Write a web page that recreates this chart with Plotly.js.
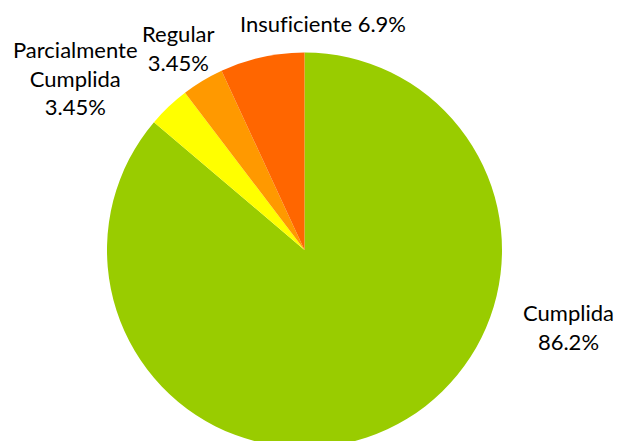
<!DOCTYPE html>
<html>
<head>
<meta charset="utf-8">
<script src="https://cdn.plot.ly/plotly-3.0.1.min.js"></script>
<style>
html,body{margin:0;padding:0;overflow:hidden;background:#fff;}
#chart{width:625px;height:452px;}
svg text{font-variant-ligatures:none !important;font-feature-settings:"liga" 0, "clig" 0 !important;}
</style>
</head>
<body>
<div id="chart"></div>
<script>
const categories = ["Cumplida", "Parcialmente Cumplida", "Regular", "Insuficiente"];
const counts = [25, 1, 1, 2];
const colors = ["#99CC00", "#FFFF00", "#FF9900", "#FF6600"];
const labelText = ["Cumplida", "Parcialmente<br>Cumplida", "Regular", "Insuficiente"];
const labelSep = ["<br>", "<br>", "<br>", " "];
// label placement (paper coords) for each category
const labelPos = [
  {x: 568/625, y: (452-327)/452},
  {x: 75/625, y: (452-78)/452},
  {x: 178/625, y: (452-48)/452},
  {x: 323/625, y: (452-23)/452}
];

const total = counts.reduce((a, b) => a + b, 0);
const pct = counts.map(v => Number((v / total * 100).toPrecision(3)).toString() + "%");

const annotations = categories.map((c, i) => ({
  xref: "paper", yref: "paper",
  x: labelPos[i].x, y: labelPos[i].y,
  xanchor: "center", yanchor: "middle",
  text: labelText[i] + labelSep[i] + pct[i],
  showarrow: false,
  align: "center",
  font: {family: "Lato, 'Open Sans', sans-serif", size: 22, color: "#000"}
}));

const data = [{
  type: "pie",
  labels: categories,
  values: counts,
  sort: false,
  direction: "clockwise",
  rotation: 0,
  marker: {colors: colors, line: {width: 0}},
  textinfo: "none",
  hoverinfo: "label+percent",
  showlegend: false,
  domain: {x: [107/625, 502/625], y: [4.5/452, 399.5/452]}
}];

const layout = {
  width: 625, height: 452,
  margin: {l: 0, r: 0, t: 0, b: 0},
  paper_bgcolor: "#fff",
  showlegend: false,
  annotations: annotations
};

Plotly.newPlot("chart", data, layout, {displayModeBar: false, staticPlot: true});
</script>
</body>
</html>
